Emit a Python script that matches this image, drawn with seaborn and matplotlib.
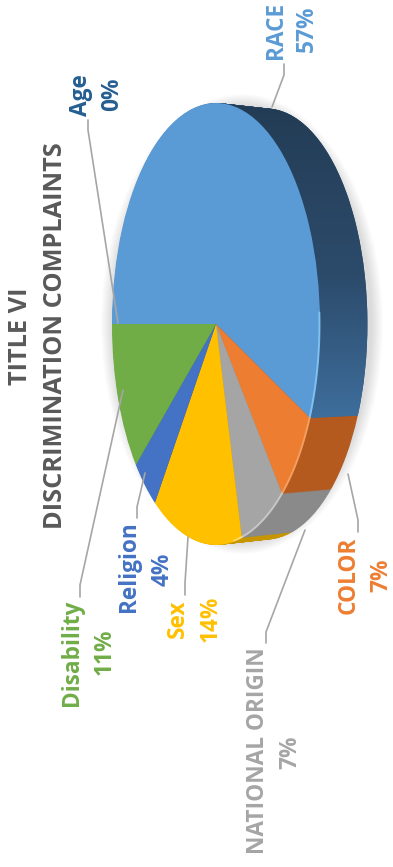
import numpy as np
import matplotlib
matplotlib.use('Agg')
import matplotlib.pyplot as plt
from matplotlib.colors import LinearSegmentedColormap
from matplotlib.patches import Polygon, Ellipse
import seaborn as sns

# ---- data ----
categories = ['RACE', 'COLOR', 'NATIONAL ORIGIN', 'Sex', 'Religion', 'Disability', 'Age']
values = [57, 7, 7, 14, 4, 11, 0]
pct_labels = ['57%', '7%', '7%', '14%', '4%', '11%', '0%']
top_colors = ['#5B9BD5', '#ED7D31', '#A5A5A5', '#FFC000', '#4472C4', '#70AD47', '#255E91']
side_colors = ['#2B4A6A', '#B55A1F', '#8A8A8A', '#C79500', '#2F5597', '#507E32', '#1B4469']
rim_colors = ['#8CCBFA', '#F7A96A', '#D0D0D0', '#FFE080', '#7FA3E0', '#A6D47F', '#4F86B8']
title_lines = ['TITLE VI', 'DISCRIMINATION COMPLAINTS']

# ---- layout (pixels, y down) ----
name_pos = [(276, 30), (349, 575), (258, 751), (178, 619), (129, 567), (72, 653), (81, 95)]
pct_pos = [(307, 29), (381, 575), (290, 752), (211, 619), (163, 569), (105, 652), (112, 94)]
leaders = [
    [(284, 64), (284, 75), (272, 107)],
    [(358, 532), (358, 520), (348, 474)],
    [(266, 643), (266, 632), (305, 530)],
    [(185, 595), (185, 583), (188, 537)],
    [(137, 518), (137, 507), (145, 473)],
    [(80, 597), (80, 585), (123, 390)],
    [(88, 120), (88, 130), (118, 323)],
]

sns.set_theme(style='white')
plt.rcParams['font.family'] = ['Open Sans', 'DejaVu Sans']

W, H = 393, 867
fig = plt.figure(figsize=(W / 100, H / 100), dpi=100)
fig.patch.set_facecolor('white')
ax = fig.add_axes([0, 0, 1, 1])
cx, cy, a, b, depth, far_scale = 216, 324, 104, 221, 50, 0.975
D = depth / a


def P(px, py):
    return ((px - cx) / a, (cy - py) / b)


# soft shadow
for k in range(12):
    grow = 12 - k
    sh = Ellipse(((depth / 2 + 1) / a, 0), 2 * (a + depth / 2 + grow) / a,
                 2 * (b + grow - 3) / b, color='#000000', alpha=0.010, lw=0)
    ax.add_patch(sh)

# side (depth) of the pie: stacked shifted copies, slightly shrinking (perspective)
for d in np.linspace(depth, 0.5, 60):
    r = 1 - (1 - far_scale) * d / depth
    ax.pie(values, colors=side_colors, startangle=180, counterclock=False,
           center=(d / a, 0), radius=r, wedgeprops=dict(linewidth=0))

# gradient on the large RACE side
th2 = np.deg2rad(180 - 360 * values[0] / sum(values))
arc1 = np.linspace(np.pi, np.pi / 2, 60)
arc2 = np.linspace(np.pi / 2, th2, 120)
poly = [(np.cos(t), np.sin(t)) for t in arc1]
poly += [(D + far_scale * np.cos(t), far_scale * np.sin(t)) for t in arc2]
poly += [(np.cos(th2), np.sin(th2)), (0, 0)]
clip = Polygon(poly, closed=True, facecolor='none', edgecolor='none')
ax.add_patch(clip)
cmap = LinearSegmentedColormap.from_list('side', [(0, '#3E6E9C'), (0.45, '#2C4B6B'), (1, '#233C55')])
grad = np.linspace(0, 1, 256).reshape(-1, 1)
im = ax.imshow(grad, cmap=cmap, extent=(0, D + 1.02, np.sin(th2), 1.0), origin='lower',
               aspect='auto', zorder=1, interpolation='bilinear')
im.set_clip_path(clip)

# top face
wedges, _ = ax.pie(values, colors=top_colors, startangle=180, counterclock=False,
                   center=(0, 0), radius=1, wedgeprops=dict(linewidth=0))
for w in wedges:
    w.set_zorder(2)

# rim highlight on the near edge
start = 180.0
for v, rc in zip(values, rim_colors):
    end = start - 360 * v / sum(values)
    lo, hi = max(end, -80), min(start, 3)
    if hi > lo:
        t = np.deg2rad(np.linspace(hi, lo, 60))
        ax.plot(np.cos(t) * 0.995, np.sin(t) * 0.995, color=rc, lw=1.4, alpha=0.8, zorder=3)
    start = end

# leader lines
for pts in leaders:
    xs, ys = zip(*[P(*p) for p in pts])
    ax.plot(xs, ys, color='#A6A6A6', lw=1.2, solid_capstyle='round', zorder=3)

# labels
for name, pct, col, npos, ppos in zip(categories, pct_labels, top_colors, name_pos, pct_pos):
    ax.text(*P(*npos), name, rotation=90, ha='center', va='center', color=col,
            fontsize=16.3, fontweight='bold', zorder=4)
    ax.text(*P(*ppos), pct, rotation=90, ha='center', va='center', color=col,
            fontsize=16.3, fontweight='bold', zorder=4)

# title
ax.text(*P(20, 336), title_lines[0], rotation=90, ha='center', va='center',
        color='#595959', fontsize=18.3, fontweight='bold')
ax.text(*P(56, 336), title_lines[1], rotation=90, ha='center', va='center',
        color='#595959', fontsize=18.3, fontweight='bold')

ax.set_aspect('auto')
ax.set_xlim((0 - cx) / a, (W - cx) / a)
ax.set_ylim((cy - H) / b, cy / b)
ax.set_axis_off()

fig.savefig('out.png', dpi=100, facecolor='white')
